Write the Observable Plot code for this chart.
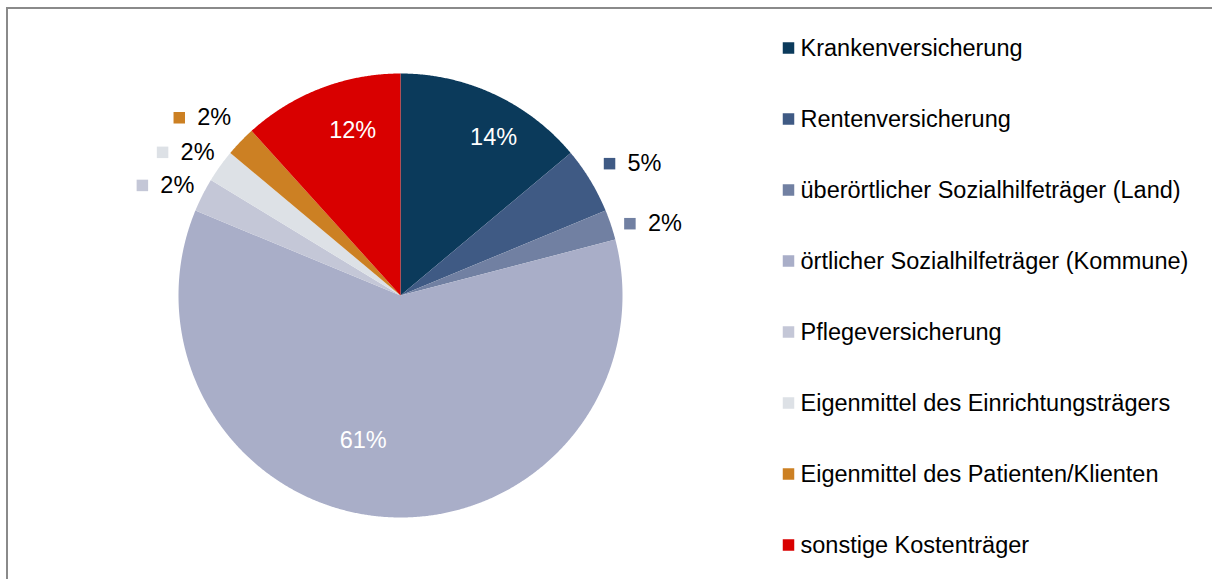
<!DOCTYPE html>
<html>
<head>
<meta charset="utf-8">
<script src="https://cdn.jsdelivr.net/npm/d3@7"></script>
<script src="https://cdn.jsdelivr.net/npm/@observablehq/plot@0.6"></script>
<style>
  body { margin: 0; background: #fff; }
  svg { display: block; }
</style>
</head>
<body>
<div id="chart"></div>
<script>
// ---- data ----
const categories = [
  "Krankenversicherung",
  "Rentenversicherung",
  "überörtlicher Sozialhilfeträger (Land)",
  "örtlicher Sozialhilfeträger (Kommune)",
  "Pflegeversicherung",
  "Eigenmittel des Einrichtungsträgers",
  "Eigenmittel des Patienten/Klienten",
  "sonstige Kostenträger"
];
const values = [13.9, 4.85, 2.2, 60.3, 2.45, 2.4, 2.2, 11.7];
const valueLabels = ["14%", "5%", "2%", "61%", "2%", "2%", "2%", "12%"];
const colors = ["#0b3a5b", "#3f5a84", "#7180a2", "#a9aec8", "#c4c7d7", "#dde1e6", "#cc8023", "#d90000"];
const labelInside = [true, false, false, true, false, false, false, true];

// ---- layout ----
const W = 1212, H = 579;
const cx = 400, cy = 295, R = 222;
const FONT = "Liberation Sans, Arial, Helvetica, sans-serif";
const FS = 23.5;
// small fine-tuning of label anchors (px), relative to the computed polar position
const labelNudge = [[18, 3], [7.5, 4], [3.5, 11.5], [-25, -32], [-2, 8.5], [-2.5, 9.5], [-10, 4], [16, 1]];

const arcs = d3.pie().sort(null).value(d => d)(values);
const polar = (a, r) => ({x: cx + r * Math.sin(a), y: cy - r * Math.cos(a)});

// slice polygons
const piePts = [];
arcs.forEach((a, i) => {
  const cat = categories[i];
  piePts.push({cat, x: cx, y: cy});
  const n = Math.max(2, Math.ceil((a.endAngle - a.startAngle) / 0.005));
  for (let k = 0; k <= n; k++) {
    const t = a.startAngle + (a.endAngle - a.startAngle) * k / n;
    const p = polar(t, R);
    piePts.push({cat, x: p.x, y: p.y});
  }
});

// labels
const insideLabels = [], outsideLabels = [];
arcs.forEach((a, i) => {
  const mid = (a.startAngle + a.endAngle) / 2;
  if (labelInside[i]) {
    const p = polar(mid, R * 0.8);
    insideLabels.push({cat: categories[i], text: valueLabels[i], x: p.x + labelNudge[i][0], y: p.y + labelNudge[i][1]});
  } else {
    const p = polar(mid, R + 40);
    const bx = p.x + labelNudge[i][0], by = p.y + labelNudge[i][1];
    outsideLabels.push({cat: categories[i], text: valueLabels[i], mx: bx - 22.5, tx: bx - 4.5, y: by});
  }
});

// legend
const legendX = 788, legendY0 = 47.5, legendStep = 71;
const legend = categories.map((c, i) => ({cat: c, y: legendY0 + legendStep * i}));

const sq = 11.5 / Math.sqrt(Math.PI);

const chart = Plot.plot({
  width: W,
  height: H,
  margin: 0,
  x: {type: "linear", domain: [0, W], range: [0, W], axis: null},
  y: {type: "linear", domain: [0, H], range: [0, H], axis: null},
  color: {domain: categories, range: colors},
  style: {fontFamily: FONT, background: "#fff"},
  marks: [
    Plot.frame({stroke: "#8a8a8a", strokeWidth: 2, insetLeft: 6.5, insetTop: 7.5, insetRight: -5, insetBottom: -5}),
    Plot.line(piePts, {x: "x", y: "y", z: "cat", fill: "cat", stroke: "none", curve: "linear"}),
    Plot.text(insideLabels, {x: "x", y: "y", text: "text", fill: "#fff", fontSize: FS, fontFamily: FONT, textAnchor: "middle", lineAnchor: "middle"}),
    Plot.dot(outsideLabels, {x: "mx", y: "y", symbol: "square", r: sq, fill: "cat", stroke: "none"}),
    Plot.text(outsideLabels, {x: "tx", y: "y", text: "text", fill: "#000", fontSize: FS, fontFamily: FONT, textAnchor: "start", lineAnchor: "middle"}),
    Plot.dot(legend, {x: legendX, y: "y", symbol: "square", r: sq, fill: "cat", stroke: "none"}),
    Plot.text(legend, {x: legendX + 12, y: "y", text: "cat", fill: "#000", fontSize: FS, fontFamily: FONT, textAnchor: "start", lineAnchor: "middle"})
  ]
});
document.getElementById("chart").append(chart);
</script>
</body>
</html>
